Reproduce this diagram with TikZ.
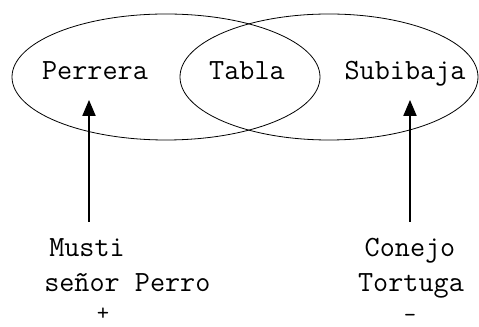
\documentclass[tikz,border=0pt]{standalone}
\usetikzlibrary{arrows.meta}

\tikzset{
  label text/.style={inner sep=0pt, font=\fontsize{22}{27}\selectfont\ttfamily},
  sign text/.style={inner sep=0pt, font=\fontsize{18}{22}\selectfont\ttfamily},
  set line/.style={line width=0.6pt},
  member arrow/.style={line width=0.8pt, -{Triangle[width=10pt,length=12pt]}}
}

\begin{document}
\begin{tikzpicture}[x=0.75pt, y=-0.75pt]
\useasboundingbox (0,0) rectangle (479,327);
% the two sets
\draw[set line] (166,77) ellipse [x radius=154, y radius=63];
\draw[set line] (329,77) ellipse [x radius=149, y radius=63];
\node[label text, anchor=base] (perrera) at (95,80) {Perrera};
\node[label text, anchor=base] (tabla) at (247,80) {Tabla};
\node[label text, anchor=base] (subibaja) at (405,80) {Subibaja};
% members below
\node[label text, anchor=base west] (musti) at (49,257) {Musti};
\node[label text, anchor=base west] (senor) at (44,292) {señor Perro};
\node[sign text, anchor=base] (plus) at (103,321) {+};
\node[label text, anchor=base] (conejo) at (410,257) {Conejo};
\node[label text, anchor=base] (tortuga) at (411,292) {Tortuga};
\node[sign text, anchor=base] (minus) at (410,323) {-};
\coordinate (ltail) at (89,222);
\coordinate (lhead) at (89,100);
\coordinate (rtail) at (410,222);
\coordinate (rhead) at (410,100);
\draw[member arrow] (ltail) -- (lhead);
\draw[member arrow] (rtail) -- (rhead);
\end{tikzpicture}
\end{document}
